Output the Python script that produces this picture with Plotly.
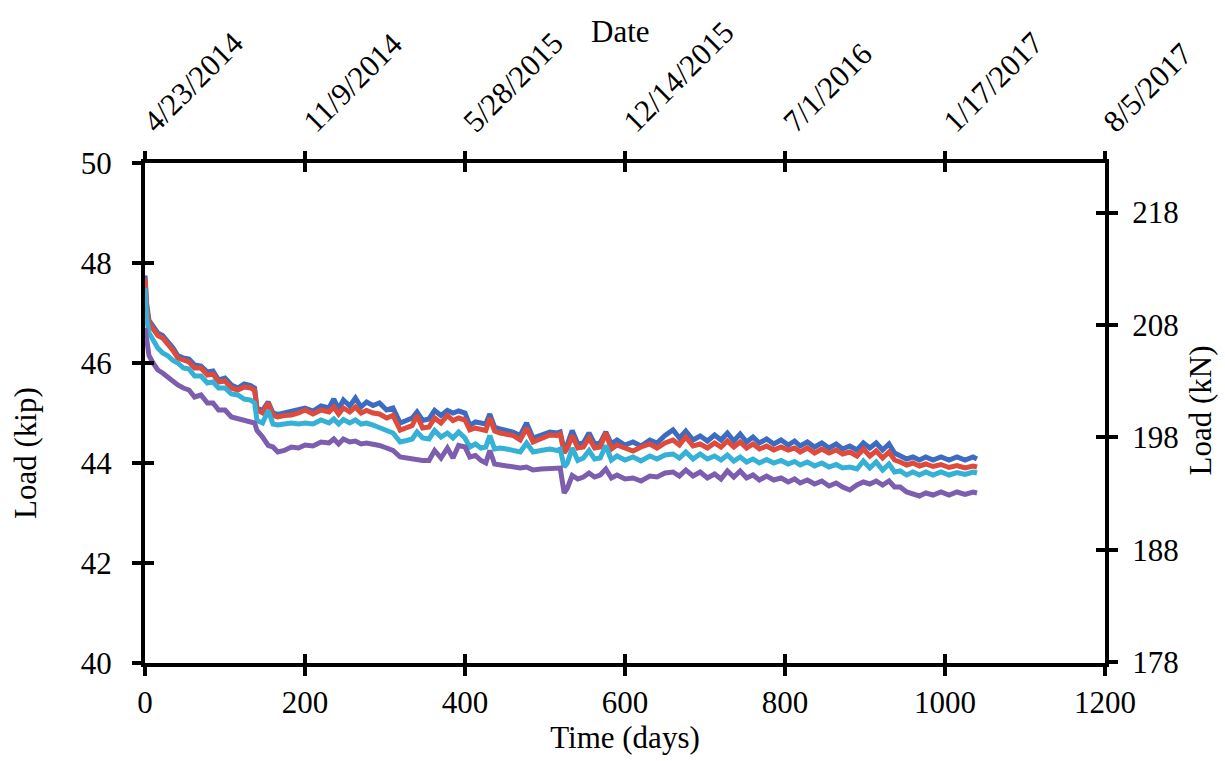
import plotly.graph_objects as go

days = [0, 2, 5, 10, 16, 22, 28, 35, 41, 48,
        55, 62, 70, 78, 85, 92, 100, 108, 116, 124,
        132, 137, 140, 147, 154, 160, 166, 174, 183, 192,
        200, 210, 220, 230, 236, 242, 248, 256, 263, 270,
        277, 285, 293, 302, 310, 319, 327, 334, 340, 347,
        355, 362, 370, 378, 385, 392, 400, 406, 413, 420,
        426, 431, 437, 444, 452, 460, 469, 477, 485, 495,
        506, 515, 519, 524, 528, 534, 541, 548, 555, 562,
        569, 576, 583, 590, 600, 610, 620, 631, 640, 650,
        660, 668, 676, 685, 694, 703, 712, 720, 728, 736,
        744, 752, 760, 768, 777, 786, 795, 804, 812, 819,
        828, 837, 846, 855, 864, 872, 881, 890, 898, 906,
        914, 922, 930, 937, 944, 952, 960, 968, 976, 985,
        995, 1005, 1015, 1025, 1035, 1040]

load_blue = [47.75, 47.2, 46.85, 46.75, 46.6, 46.55, 46.45, 46.3, 46.15, 46.1,
             46.08, 45.96, 45.94, 45.82, 45.84, 45.66, 45.7, 45.56, 45.5, 45.58,
             45.55, 45.5, 45.1, 45.05, 45.22, 45.0, 44.97, 45.0, 45.02, 45.05,
             45.1, 45.04, 45.14, 45.1, 45.28, 45.08, 45.26, 45.14, 45.3, 45.12,
             45.22, 45.15, 45.2, 45.06, 45.1, 44.8, 44.85, 44.9, 45.02, 44.85,
             44.88, 45.05, 44.95, 45.05, 45.0, 45.04, 45.0, 44.75, 44.82, 44.8,
             44.78, 44.98, 44.72, 44.68, 44.66, 44.62, 44.55, 44.8, 44.5, 44.55,
             44.62, 44.6, 44.62, 44.25, 44.38, 44.65, 44.38, 44.4, 44.6, 44.38,
             44.4, 44.62, 44.38, 44.46, 44.36, 44.42, 44.34, 44.46, 44.4, 44.55,
             44.66, 44.5, 44.64, 44.46, 44.54, 44.44, 44.56, 44.46, 44.6, 44.44,
             44.58, 44.42, 44.52, 44.4, 44.48, 44.38, 44.46, 44.36, 44.44, 44.34,
             44.42, 44.32, 44.4, 44.3, 44.38, 44.28, 44.34, 44.26, 44.4, 44.3,
             44.4, 44.26, 44.38, 44.2, 44.14, 44.08, 44.12, 44.06, 44.12, 44.06,
             44.12, 44.06, 44.12, 44.06, 44.12, 44.08]

load_red = [47.7, 47.1, 46.8, 46.7, 46.55, 46.5, 46.4, 46.25, 46.1, 46.05,
            46.02, 45.9, 45.9, 45.76, 45.78, 45.62, 45.64, 45.5, 45.46, 45.52,
            45.5, 45.45, 45.06, 45.0, 45.2, 44.95, 44.92, 44.95, 44.96, 45.0,
            45.06, 44.98, 45.06, 45.02, 45.12, 44.98, 45.1, 45.02, 45.12, 45.0,
            45.05, 45.0, 44.98, 44.9, 44.95, 44.66, 44.7, 44.75, 44.95, 44.7,
            44.72, 44.9, 44.8, 44.95, 44.85, 44.9, 44.86, 44.66, 44.7, 44.68,
            44.65, 44.9, 44.64, 44.6, 44.58, 44.55, 44.46, 44.7, 44.42, 44.48,
            44.56, 44.55, 44.58, 44.2, 44.3, 44.55, 44.3, 44.32, 44.5, 44.3,
            44.32, 44.6, 44.28, 44.36, 44.3, 44.24, 44.32, 44.38, 44.3, 44.4,
            44.46, 44.36, 44.52, 44.34, 44.38, 44.3, 44.4, 44.32, 44.44, 44.32,
            44.42, 44.3, 44.38, 44.28, 44.34, 44.26, 44.32, 44.26, 44.3, 44.22,
            44.3, 44.2, 44.28, 44.2, 44.26, 44.18, 44.22, 44.14, 44.28, 44.14,
            44.24, 44.1, 44.22, 44.06, 44.02, 43.96, 44.0, 43.94, 43.98, 43.93,
            43.97, 43.91, 43.95, 43.9, 43.94, 43.92]

load_cyan = [47.5, 46.9, 46.6, 46.45, 46.3, 46.2, 46.15, 46.05, 46.0, 45.9,
             45.88, 45.74, 45.74, 45.6, 45.62, 45.5, 45.5, 45.38, 45.36, 45.28,
             45.26, 45.2, 44.85, 44.8, 45.05, 44.78, 44.76, 44.78, 44.8, 44.78,
             44.8, 44.78, 44.86, 44.8, 44.88, 44.78, 44.87, 44.8, 44.86, 44.78,
             44.8, 44.76, 44.72, 44.65, 44.6, 44.42, 44.45, 44.48, 44.62, 44.5,
             44.48, 44.65, 44.52, 44.6, 44.5, 44.62, 44.5, 44.32, 44.38, 44.3,
             44.32, 44.55, 44.28, 44.3, 44.28, 44.26, 44.22, 44.4, 44.22, 44.25,
             44.28, 44.25, 44.28, 43.92, 44.0, 44.3, 44.05, 44.1, 44.25, 44.08,
             44.1, 44.35, 44.06, 44.14, 44.06, 44.12, 44.04, 44.14, 44.08, 44.16,
             44.18, 44.1, 44.22, 44.08, 44.18, 44.08, 44.14, 44.06, 44.16, 44.04,
             44.12, 44.02, 44.08, 44.0, 44.07, 44.0, 44.05, 43.98, 44.03, 43.96,
             44.02, 43.94, 44.0, 43.92, 43.97, 43.9, 43.92, 43.88, 44.04, 43.9,
             44.02, 43.86, 43.98, 43.82, 43.84, 43.76, 43.82, 43.76, 43.82, 43.76,
             43.82, 43.76, 43.81, 43.77, 43.82, 43.8]

load_purple = [46.7, 46.4, 46.15, 46.0, 45.86, 45.8, 45.72, 45.62, 45.56, 45.5,
               45.46, 45.32, 45.36, 45.2, 45.2, 45.06, 45.06, 44.92, 44.88, 44.84,
               44.82, 44.8, 44.65, 44.52, 44.35, 44.32, 44.22, 44.25, 44.32, 44.3,
               44.36, 44.34, 44.42, 44.4, 44.48, 44.38, 44.48, 44.42, 44.44, 44.38,
               44.4, 44.38, 44.35, 44.3, 44.25, 44.12, 44.1, 44.08, 44.06, 44.05,
               44.05, 44.25, 44.1, 44.3, 44.1, 44.35, 44.32, 44.12, 44.15, 44.05,
               44.0, 44.25, 43.98, 43.96, 43.94, 43.92, 43.9, 43.92, 43.86, 43.88,
               43.88, 43.88, 43.9, 43.4, 43.5, 43.75, 43.68, 43.72, 43.8, 43.72,
               43.76, 43.88, 43.7, 43.76, 43.68, 43.7, 43.64, 43.74, 43.72, 43.8,
               43.82, 43.74, 43.86, 43.74, 43.82, 43.7, 43.78, 43.68, 43.84, 43.72,
               43.84, 43.7, 43.76, 43.66, 43.74, 43.66, 43.7, 43.62, 43.68, 43.6,
               43.66, 43.58, 43.64, 43.54, 43.6, 43.52, 43.46, 43.56, 43.62, 43.58,
               43.64, 43.56, 43.64, 43.52, 43.52, 43.42, 43.38, 43.34, 43.4, 43.36,
               43.42, 43.36, 43.42, 43.37, 43.42, 43.4]

x_ticks = [0, 200, 400, 600, 800, 1000, 1200]
date_labels = ["4/23/2014", "11/9/2014", "5/28/2015", "12/14/2015",
               "7/1/2016", "1/17/2017", "8/5/2017"]
kip_ticks = [40, 42, 44, 46, 48, 50]
kn_ticks = [178, 188, 198, 208, 218]
KIP_TO_KN = 4.44822

FONT = "Liberation Serif, Times New Roman, serif"
TICK_SIZE = 31
TITLE_SIZE = 31

fig = go.Figure()
series = [("Blue", load_blue, "#3C6CC2"), ("Red", load_red, "#DE4A3C"),
          ("Cyan", load_cyan, "#35B0D6"), ("Purple", load_purple, "#7D5DAE")]
for name, vals, col in series:
    fig.add_trace(go.Scatter(x=days, y=vals, mode="lines", name=name,
                             line=dict(color=col, width=5), showlegend=False))

# dummy traces to activate auxiliary axes
fig.add_trace(go.Scatter(x=[None], y=[None], xaxis="x2", yaxis="y2", showlegend=False, hoverinfo="skip"))
fig.add_trace(go.Scatter(x=[None], y=[None], xaxis="x3", yaxis="y3", showlegend=False, hoverinfo="skip"))
fig.add_trace(go.Scatter(x=[None], y=[None], xaxis="x4", yaxis="y4", showlegend=False, hoverinfo="skip"))

common = dict(showgrid=False, zeroline=False, showline=True, linecolor="black",
              linewidth=4, tickcolor="black", tickwidth=4)
kn_range = [40 * KIP_TO_KN, 50 * KIP_TO_KN]
title_font = dict(size=TITLE_SIZE, family=FONT, color="black")

fig.update_layout(
    width=1225, height=761,
    margin=dict(l=145, r=120, t=163, b=98),
    paper_bgcolor="white", plot_bgcolor="white",
    font=dict(family=FONT, color="black", size=TICK_SIZE),
    xaxis=dict(range=[0, 1200], tickmode="array", tickvals=x_ticks,
               ticks="outside", ticklen=9, ticklabelstandoff=0,
               tickfont=dict(size=TICK_SIZE),
               title=dict(text="Time (days)", font=dict(size=TITLE_SIZE), standoff=6),
               **common),
    yaxis=dict(range=[40, 50], tickmode="array", tickvals=kip_ticks,
               ticks="outside", ticklen=9, ticklabelstandoff=14,
               tickfont=dict(size=TICK_SIZE), **common),
    xaxis2=dict(range=[0, 1200], overlaying="x", side="top", anchor="y2",
                tickmode="array", tickvals=x_ticks, ticktext=date_labels,
                tickangle=-45, ticks="outside", ticklen=8,
                tickfont=dict(size=TICK_SIZE), **common),
    yaxis2=dict(range=kn_range, overlaying="y", side="right", anchor="x2",
                tickmode="array", tickvals=kn_ticks, ticks="outside", ticklen=9,
                ticklabelstandoff=8,
                tickfont=dict(size=TICK_SIZE), **common),
    xaxis3=dict(range=[0, 1200], overlaying="x", side="bottom", anchor="y3",
                tickmode="array", tickvals=x_ticks, ticks="inside", ticklen=9,
                showticklabels=False, **common),
    yaxis3=dict(range=[40, 50], overlaying="y", side="left", anchor="x3",
                tickmode="array", tickvals=kip_ticks, ticks="inside", ticklen=9,
                showticklabels=False, **common),
    xaxis4=dict(range=[0, 1200], overlaying="x", side="top", anchor="y4",
                tickmode="array", tickvals=x_ticks, ticks="inside", ticklen=9,
                showticklabels=False, **common),
    yaxis4=dict(range=kn_range, overlaying="y", side="right", anchor="x4",
                tickmode="array", tickvals=kn_ticks, ticks="inside", ticklen=9,
                showticklabels=False, **common),
    annotations=[
        dict(text="Date", xref="paper", yref="paper", x=0.495, y=1.0,
             yshift=132, showarrow=False, yanchor="middle", font=title_font),
        dict(text="Load (kip)", xref="paper", yref="y", x=0, y=44.2,
             xshift=-120, textangle=-90, showarrow=False,
             xanchor="center", yanchor="middle", font=title_font),
        dict(text="Load (kN)", xref="paper", yref="y", x=1, y=45.05,
             xshift=95, textangle=-90, showarrow=False,
             xanchor="center", yanchor="middle", font=title_font),
    ],
)

fig.write_html("out.html")
